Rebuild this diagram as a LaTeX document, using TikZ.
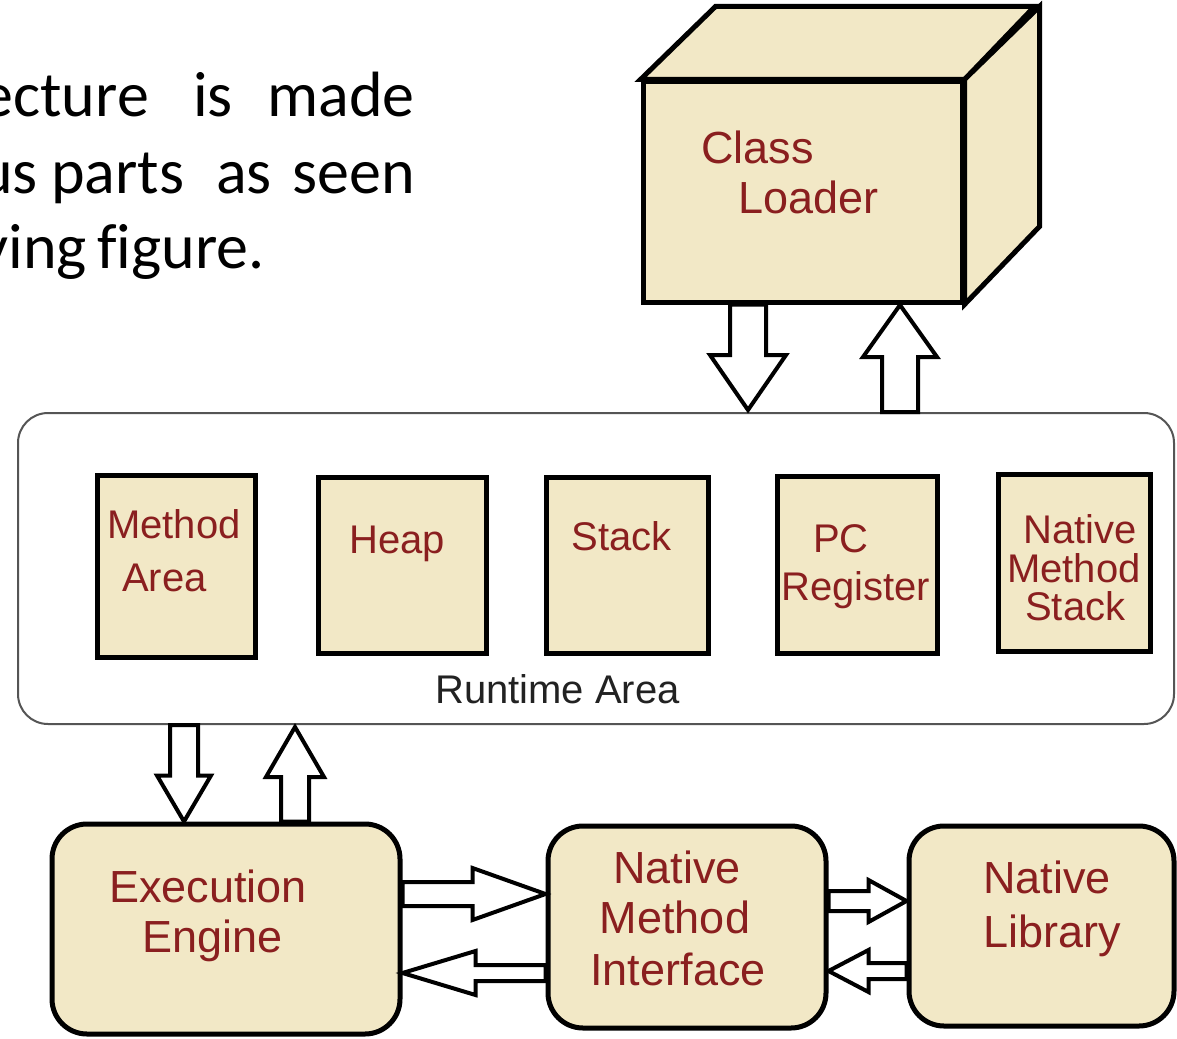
\documentclass[tikz,border=0pt]{standalone}
\usepackage{fontspec}
\setmainfont{Liberation Sans}
\newfontfamily\introfont[Ligatures=NoCommon]{Carlito}
\usetikzlibrary{calc}
\definecolor{beige}{HTML}{F2E8C6}
\definecolor{tred}{HTML}{8A1F1F}
\definecolor{rtborder}{HTML}{555555}
\definecolor{rttext}{HTML}{222222}

% block arrow from named coordinate #1 to tip #2; #3 shaft half width, #4 head half width, #5 head length
\newcommand{\blockarr}[5]{%
  \coordinate (bahb) at ($(#2)!#5!(#1)$);
  \draw[blk] ($(#1)!#3!90:(#2)$) -- ($(bahb)!#3!-90:(#1)$) -- ($(bahb)!#4!-90:(#1)$) -- (#2)
    -- ($(bahb)!#4!90:(#1)$) -- ($(bahb)!#3!90:(#1)$) -- ($(#1)!#3!-90:(#2)$) -- cycle;}

\begin{document}
\begin{tikzpicture}[x=1pt,y=-1pt,
  box/.style={draw=black, line width=5pt, fill=beige, inner sep=0pt},
  rbox/.style={box, rounded corners=35pt},
  lbl/.style={text=tred, inner sep=0pt, font=\fontsize{40}{40}\selectfont},
  lblbig/.style={text=tred, inner sep=0pt, font=\fontsize{45}{45}\selectfont},
  intro/.style={inner sep=0pt, text=black, font=\introfont\fontsize{64}{64}\selectfont},
  blk/.style={draw=black, line width=4pt, fill=white, line join=miter}
]
\useasboundingbox (0,0) rectangle (1177,1038);
\fill[white] (0,0) rectangle (1177,1038);
\clip (0,0) rectangle (1177,1038);

% intro text (cropped paragraph)
\node[intro, anchor=base east] (w1) at (149,117) {ecture};
\node[intro, anchor=base west] (w2) at (193,117) {is};
\node[intro, anchor=base east] (w3) at (415,117) {made};
\node[intro, anchor=base east] (w4) at (38,193) {us};
\node[intro, anchor=base west] (w5) at (51,193) {parts};
\node[intro, anchor=base west] (w6) at (216,193) {as};
\node[intro, anchor=base east] (w7) at (415,193) {seen};
\node[intro, anchor=base east] (w8) at (87,268) {ying};
\node[intro, anchor=base west] (w9) at (97,268) {figure.};

% Class loader cube
\node[box, minimum width=319pt, minimum height=220pt] (front) at (802.5,192) {};
\filldraw[fill=beige, draw=black, line width=5pt, line join=miter]
  (front.north west) -- ++(75,-73) -- ++(319,0) -- (front.north east) -- cycle;
\filldraw[fill=beige, draw=black, line width=5pt, line join=miter]
  (front.north east) -- ++(75,-73) -- ++(0,220) -- (front.south east) -- cycle;
\node[lblbig, anchor=base west] (cl1) at (701,163) {Class};
\node[lblbig, anchor=base west] (cl2) at (738,213) {Loader};

% Runtime area
\node[draw=rtborder, line width=2pt, rounded corners=30pt, minimum width=1156pt, minimum height=311pt, inner sep=0pt] (rt) at (596,568.5) {};
\node[box, minimum width=158pt, minimum height=182pt] (ma) at (176,566) {};
\node[box, minimum width=168pt, minimum height=176pt] (heap) at (402,565) {};
\node[box, minimum width=162pt, minimum height=176pt] (stack) at (627,565) {};
\node[box, minimum width=160pt, minimum height=177pt] (pc) at (857,564.5) {};
\node[box, minimum width=152pt, minimum height=177pt] (nms) at (1074,562.5) {};

\node[lbl, anchor=base west] (ma1) at (107,538) {Method};
\node[lbl, anchor=base west] (ma2) at (122,591) {Area};
\node[lbl, anchor=base west] (hp1) at (349,553) {Heap};
\node[lbl, anchor=base east] (st1) at (672,550) {Stack};
\node[lbl, anchor=base west] (pc1) at (813,552) {PC};
\node[lbl, anchor=base west] (pc2) at (781,600) {Register};
\node[lbl, anchor=base west] (ns1) at (1023,543) {Native};
\node[lbl, anchor=base west] (ns2) at (1007,582) {Method};
\node[lbl, anchor=base west] (ns3) at (1025,620) {Stack};
\node[inner sep=0pt, text=rttext, font=\fontsize{40}{40}\selectfont, anchor=base west] (rtl) at (435,703) {Runtime Area};

% bottom boxes
\node[rbox, minimum width=348pt, minimum height=210pt] (ee) at (226,929) {};
\node[rbox, minimum width=278pt, minimum height=202pt] (nmi) at (687,927) {};
\node[rbox, minimum width=265pt, minimum height=200pt] (nl) at (1041.5,926) {};

\node[lblbig, anchor=base west] (ee1) at (109,902) {Execution};
\node[lblbig, anchor=base west] (ee2) at (142,952) {Engine};
\node[lblbig, anchor=base] (nmi1) at (677,883) {Native};
\node[lblbig, anchor=base] (nmi2) at (675,933) {Method};
\node[lblbig, anchor=base] (nmi3) at (678,985) {Interface};
\node[lblbig, anchor=base west] (nl1) at (983,893) {Native};
\node[lblbig, anchor=base west] (nl2) at (983,947) {Library};

% connector coordinates
\coordinate (a1s) at (748,0 |- front.south);
\coordinate (a1t) at (748,410);
\coordinate (a2s) at (900,0 |- rt.north);
\coordinate (a2t) at (900,305);
\coordinate (a3s) at (184,0 |- rt.south);
\coordinate (a3t) at (184,0 |- ee.north);
\coordinate (a4s) at (295,0 |- ee.north);
\coordinate (a4t) at (295,727);
\coordinate (a5s) at (ee.east |- 0,894);
\coordinate (a5t) at (nmi.west |- 0,894);
\coordinate (a6s) at (nmi.west |- 0,973);
\coordinate (a6t) at (ee.east |- 0,973);
\coordinate (a7s) at (nmi.east |- 0,901);
\coordinate (a7t) at (nl.west |- 0,901);
\coordinate (a8s) at (nl.west |- 0,971);
\coordinate (a8t) at (nmi.east |- 0,971);

\blockarr{a1s}{a1t}{18pt}{38pt}{55pt}
\blockarr{a2s}{a2t}{18pt}{37pt}{52pt}
\blockarr{a3s}{a3t}{14pt}{27pt}{46pt}
\blockarr{a4s}{a4t}{14pt}{29pt}{50pt}
\blockarr{a5s}{a5t}{12pt}{26pt}{73pt}
\blockarr{a6s}{a6t}{8pt}{22pt}{73pt}
\blockarr{a7s}{a7t}{10pt}{21pt}{38pt}
\blockarr{a8s}{a8t}{8pt}{21pt}{40pt}
\end{tikzpicture}
\end{document}
